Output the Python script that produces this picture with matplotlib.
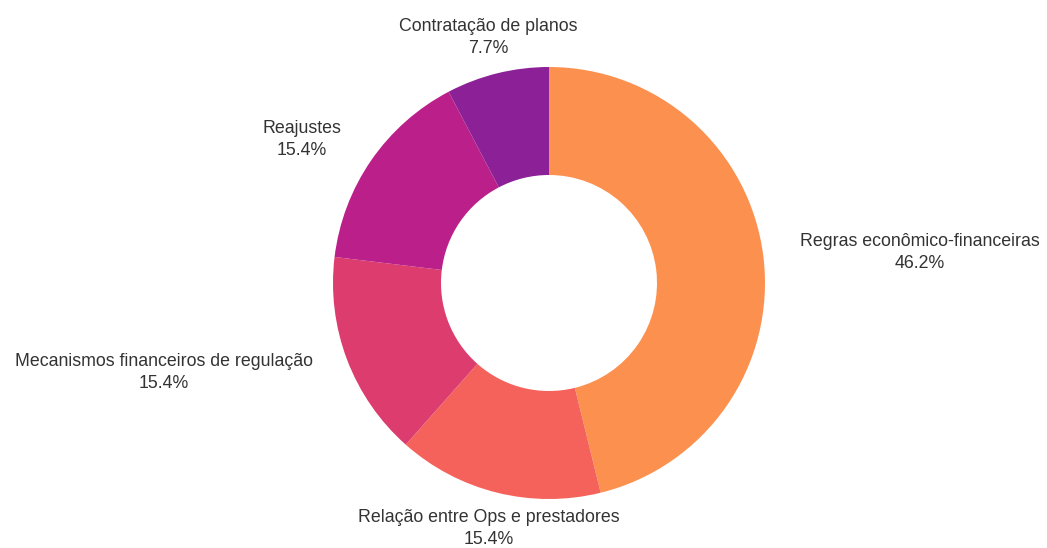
import matplotlib
matplotlib.use("Agg")
import matplotlib.pyplot as plt
import numpy as np

categories = ["Regras econômico-financeiras", "Relação entre Ops e prestadores",
              "Mecanismos financeiros de regulação", "Reajustes", "Contratação de planos"]
values = [6, 2, 2, 2, 1]
colors = ["#FC914F", "#F5625C", "#DC3C6E", "#BB1F89", "#8C2197"]

plt.rcParams['font.family'] = ['Liberation Sans', 'DejaVu Sans']

fig = plt.figure(figsize=(10.47, 5.48), dpi=100)
ax = fig.add_axes([0, 0, 1, 1])
total = sum(values)
labels = [f"{c}\n{v / total * 100:.1f}%" for c, v in zip(categories, values)]
wedges, texts = ax.pie(values, colors=colors, startangle=90, counterclock=False,
                       wedgeprops=dict(width=0.5, linewidth=0), labels=labels,
                       labeldistance=1.17,
                       textprops=dict(fontsize=12.8, color="#333333", linespacing=1.35))
for t in texts:
    x, y = t.get_position()
    if abs(x) < 0.4:
        t.set_horizontalalignment('center')
    t.set_multialignment('center')
    t.set_verticalalignment('center')
ax.set_aspect('auto')
ax.set_xlim(-549 / 216, (1047 - 549) / 216)
ax.set_ylim(-(548 - 283) / 216, 283 / 216)
ax.axis('off')
fig.savefig("out.png", dpi=100)
